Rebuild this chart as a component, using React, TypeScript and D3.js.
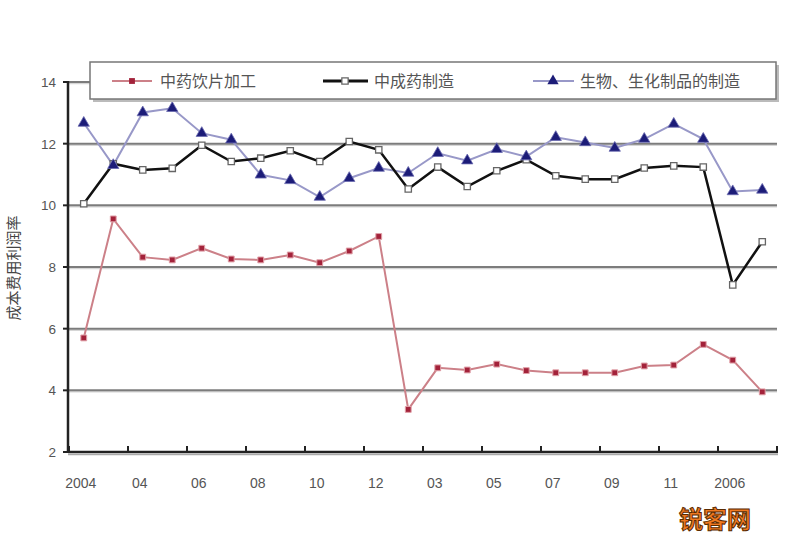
import React from "react";
import * as d3 from "d3";

const categories = [
  "2004-02","2004-03","2004-04","2004-05","2004-06","2004-07","2004-08","2004-09","2004-10","2004-11","2004-12",
  "2005-02","2005-03","2005-04","2005-05","2005-06","2005-07","2005-08","2005-09","2005-10","2005-11","2005-12",
  "2006-02","2006-03",
];
const tickLabels = ["2004","","04","","06","","08","","10","","12","","03","","05","","07","","09","","11","","2006",""];

const seriesNames = ["中药饮片加工", "中成药制造", "生物、生化制品的制造"];

const herbalPieces = [5.7,9.56,8.32,8.23,8.61,8.26,8.23,8.39,8.14,8.52,8.99,3.38,4.73,4.66,4.85,4.64,4.57,4.57,4.57,4.79,4.82,5.49,4.98,3.95];
const patentMedicine = [10.05,11.35,11.15,11.2,11.95,11.42,11.53,11.77,11.42,12.07,11.8,10.53,11.24,10.61,11.12,11.48,10.96,10.85,10.85,11.21,11.28,11.24,7.42,8.82];
const biological = [12.67,11.3,13.01,13.15,12.34,12.13,10.99,10.81,10.27,10.88,11.21,11.05,11.69,11.45,11.82,11.58,12.21,12.04,11.86,12.15,12.64,12.15,10.45,10.5];

const yTicks = [2,4,6,8,10,12,14];
const yLabel = "成本费用利润率";

const W = 800, H = 550;
const plot = { left: 68, right: 777, top: 82, bottom: 452 };

export default function App() {
  const x = d3.scaleBand<number>().domain(d3.range(categories.length)).range([plot.left + 1, plot.right]).padding(0);
  const y = d3.scaleLinear().domain([2, 14]).range([plot.bottom, plot.top]);
  const cx = (i: number) => (x(i) as number) + x.bandwidth() / 2;
  const line = d3.line<number>().x((_, i) => cx(i)).y((d) => y(d));

  const sq = d3.symbol().type(d3.symbolSquare).size(40)();
  const tri = d3.symbol().type(d3.symbolTriangle).size(55)();
  const redSq = d3.symbol().type(d3.symbolSquare).size(34)();

  const font = "'Liberation Sans', 'Noto Sans CJK SC', sans-serif";
  const cjk = "'Noto Sans CJK SC', sans-serif";

  const xTickPos = d3.range(0, categories.length + 1, 2).map((i) =>
    i < categories.length ? (x(i) as number) : plot.right
  );

  return (
    <svg width={W} height={H} style={{ display: "block", position: "absolute", left: 0, top: 0 }}>
      <rect x={0} y={0} width={W} height={H} fill="#fff" />
      {/* gridlines */}
      {yTicks.slice(1).map((t) => (
        <g key={t}>
          <line x1={plot.left} x2={plot.right} y1={y(t) + 1.5} y2={y(t) + 1.5} stroke="#d6d6d6" strokeWidth={1.5} />
          <line x1={plot.left} x2={plot.right} y1={y(t)} y2={y(t)} stroke="#7c7c7c" strokeWidth={2} />
        </g>
      ))}
      {/* axes */}
      <line x1={plot.left} x2={plot.left} y1={plot.top - 1} y2={plot.bottom + 1} stroke="#222" strokeWidth={2.5} />
      <line x1={plot.left} x2={plot.right + 1} y1={plot.bottom} y2={plot.bottom} stroke="#222" strokeWidth={2.5} />
      <line x1={plot.left} x2={plot.right + 1} y1={plot.bottom + 2.5} y2={plot.bottom + 2.5} stroke="#aaa" strokeWidth={1.5} />
      {yTicks.map((t) => (
        <g key={"yt" + t}>
          <line x1={plot.left - 5} x2={plot.left} y1={y(t)} y2={y(t)} stroke="#222" strokeWidth={2} />
          <text x={56} y={y(t) + 5} textAnchor="end" fontSize={13.5} fill="#555" fontFamily={font}>{t}</text>
        </g>
      ))}
      {xTickPos.map((px, k) => (
        <line key={"xt" + k} x1={px} x2={px} y1={plot.bottom - 6} y2={plot.bottom} stroke="#222" strokeWidth={2} />
      ))}
      {tickLabels.map((lab, i) =>
        lab ? (
          <text key={"xl" + i} x={cx(i) - 3} y={488} textAnchor="middle" fontSize={14} fill="#555" fontFamily={font}>{lab}</text>
        ) : null
      )}
      <text transform={`translate(19,${268}) rotate(-90)`} textAnchor="middle" fontSize={15} fill="#444" fontFamily={cjk}>{yLabel}</text>

      {/* series lines */}
      <path d={line(herbalPieces) || ""} fill="none" stroke="#cc8088" strokeWidth={2} />
      <path d={line(biological) || ""} fill="none" stroke="#9898c8" strokeWidth={2} />
      <path d={line(patentMedicine) || ""} fill="none" stroke="#111" strokeWidth={2.5} />

      {/* markers */}
      {herbalPieces.map((v, i) => (
        <path key={"r" + i} d={redSq} transform={`translate(${cx(i)},${y(v)})`} fill="#a3223a" stroke="#e0a0a8" strokeWidth={1} />
      ))}
      {patentMedicine.map((v, i) => (
        <path key={"b" + i} d={sq} transform={`translate(${cx(i)},${y(v)})`} fill="#fff" stroke="#666" strokeWidth={1.3} />
      ))}
      {biological.map((v, i) => (
        <path key={"t" + i} d={tri} transform={`translate(${cx(i)},${y(v)})`} fill="#1c1c78" stroke="#6a6ab0" strokeWidth={0.8} />
      ))}

      {/* legend */}
      <rect x={93} y={65} width={686} height={37} fill="#bbb" />
      <rect x={90} y={62} width={686} height={37} fill="#fff" stroke="#777" strokeWidth={1.5} />
      <g>
        <line x1={112} x2={152} y1={81} y2={81} stroke="#cc8088" strokeWidth={2} />
        <path d={redSq} transform="translate(132,81)" fill="#a3223a" />
        <text x={160} y={87} fontSize={16} fill="#555" fontFamily={cjk}>{seriesNames[0]}</text>
        <line x1={323} x2={368} y1={81} y2={81} stroke="#111" strokeWidth={3} />
        <path d={sq} transform="translate(345,81)" fill="#fff" stroke="#666" strokeWidth={1.3} />
        <text x={374} y={87} fontSize={16} fill="#555" fontFamily={cjk}>{seriesNames[1]}</text>
        <line x1={533} x2={574} y1={81} y2={81} stroke="#9898c8" strokeWidth={2} />
        <path d={tri} transform="translate(553,81)" fill="#1c1c78" />
        <text x={580} y={87} fontSize={16} fill="#555" fontFamily={cjk}>{seriesNames[2]}</text>
      </g>

      {/* watermark */}
      <text x={715} y={528} textAnchor="middle" fontSize={24} fontWeight="bold" fill="#f07820" stroke="#5a2a00" strokeWidth={1} fontFamily={cjk}>锐客网</text>
    </svg>
  );
}
